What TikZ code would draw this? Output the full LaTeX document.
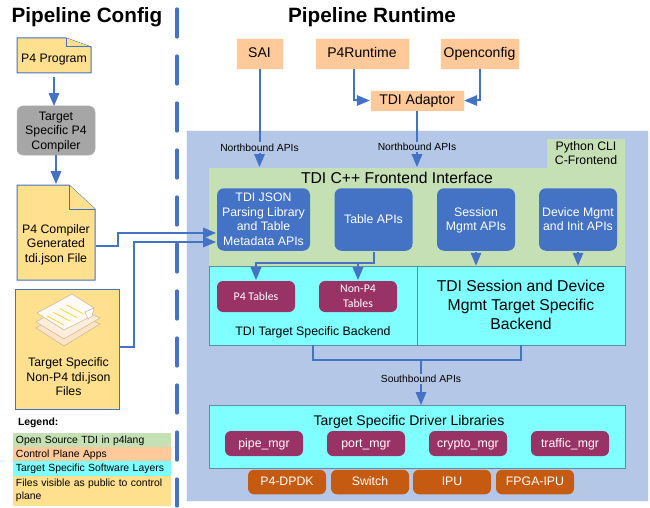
\documentclass[tikz,border=0pt]{standalone}
\usepackage{fontspec}
\setmainfont{Liberation Sans}
\newfontfamily\tablefont{Carlito}
\usetikzlibrary{arrows}

\definecolor{linkblue}{HTML}{4472C4}
\definecolor{panelblue}{HTML}{B4C7E7}
\definecolor{tdigreen}{HTML}{C5E0B4}
\definecolor{appsorange}{HTML}{FFC999}
\definecolor{targetcyan}{HTML}{7FFFFF}
\definecolor{fileyellow}{HTML}{FFE08F}
\definecolor{mgrplum}{HTML}{993366}
\definecolor{rustorange}{HTML}{C55A11}
\definecolor{edgeteal}{HTML}{5F8F9F}
\definecolor{sheetedge}{HTML}{CDBB9C}

\begin{document}
\begin{tikzpicture}[x=1pt, y=-1pt, ->, >=triangle 45, line width=2pt]
    \tikzstyle{every node}=[inner sep=0pt, align=center, text=black, font=\fontsize{12.3}{14.5}\selectfont]
    \tikzstyle{oneline}=[text height=9pt, text depth=1.5pt]
    \tikzstyle{apps}=[fill=appsorange, draw=white!85!appsorange, line width=0.5pt, font=\fontsize{14}{16}\selectfont, text height=10pt, text depth=1.5pt]
    \tikzstyle{apibox}=[fill=linkblue, draw=none, rounded corners=7pt, text=white, minimum height=62.5pt]
    \tikzstyle{mgrbox}=[fill=mgrplum, draw=none, rounded corners=6pt, text=white, minimum width=78pt]
    \tikzstyle{asicbox}=[fill=rustorange, draw=none, rounded corners=6pt, text=white, minimum width=78pt, minimum height=24.5pt, oneline]
    \tikzstyle{layerbox}=[draw=edgeteal, line width=0.7pt, minimum width=416pt]
    \tikzstyle{apilabel}=[fill=panelblue, font=\fontsize{10.3}{12}\selectfont, inner sep=1.5pt, text depth=0pt]
    \tikzstyle{filebox}=[fill=fileyellow, draw=linkblue, line width=1pt, -]
    \tikzstyle{sheet}=[-, draw=sheetedge, line width=0.6pt]
    \tikzstyle{legendrow}=[anchor=west, minimum width=158pt, text width=152pt, inner xsep=3pt, align=left, font=\fontsize{10.4}{13}\selectfont]
    \tikzstyle{legendline}=[legendrow, text height=8pt, text depth=1pt]

    \useasboundingbox (0, 0) rectangle (650, 508);

    \node[font=\bfseries\fontsize{20.7}{22}\selectfont] at (87, 17) (titleconfig) {Pipeline Config};
    \node[font=\bfseries\fontsize{20.7}{22}\selectfont] at (372, 17) (titleruntime) {Pipeline Runtime};
    \coordinate (splittop) at (177, 9);
    \coordinate (splitbot) at (177, 506);
    \draw[-, draw=linkblue, line width=3.2pt, line cap=round, dash pattern=on 28pt off 19pt] (splittop) -- (splitbot);

    % runtime panel
    \node[fill=panelblue, draw=white!80!panelblue, line width=1pt, minimum width=462pt, minimum height=371pt] at (417, 316) (panel) {};

    % config side
    \draw[filebox] (17, 38) -- (66, 38) -- (91, 47) -- (91, 73) -- (17, 73) -- cycle;
    \draw[filebox] (66, 38) -- (66, 47) -- (91, 47);
    \node[minimum width=74pt, minimum height=35pt, oneline] at (54, 59) (program) {P4 Program};
    \node[fill=black!35, draw=white!70!black, line width=0.5pt, rounded corners=6pt, minimum width=78pt, minimum height=49pt, text depth=0pt] at (56, 130.5) (compiler) {Target\\Specific P4\\Compiler};
    \draw[filebox] (17, 185) -- (69, 185) -- (95, 209) -- (95, 280) -- (17, 280) -- cycle;
    \draw[filebox] (69, 185) -- (69, 209) -- (95, 209);
    \node[minimum width=78pt, minimum height=95pt] at (56, 232.5) (generated) {};
    \node at (56, 244.5) (generatedtext) {P4 Compiler\\Generated\\tdi.json File};
    \node[fill=fileyellow, draw=linkblue, line width=1pt, minimum width=104pt, minimum height=120pt] at (67, 349) (nonp4) {};
    \node at (68.5, 377) (nonp4text) {Target Specific\\Non-P4 tdi.json\\Files};

    % sheets
    \draw[sheet, fill=orange!22!white] (36, 328) -- (68, 310) -- (100, 324) -- (64, 346) -- cycle;
    \draw[sheet, fill=orange!14!white] (36, 322) -- (68, 304) -- (100, 318) -- (64, 339) -- cycle;
    \draw[sheet, fill=orange!4!white] (37, 313) -- (72, 294) -- (94, 308) -- (92, 316) -- (64, 330) -- cycle;
    \draw[sheet, fill=white] (94, 308) -- (85, 312) -- (88, 319) -- (92, 316) -- cycle;
    \foreach \i in {0,1,2,3} {
        \draw[-, draw=yellow!70!orange, line width=0.6pt] (47+\i*6.5, 316-\i*3.7) -- (64+\i*6.5, 325-\i*3.7);
    }

    % apps
    \node[apps, minimum width=47pt, minimum height=31pt] at (259.5, 53.5) (sai) {SAI};
    \node[apps, minimum width=94pt, minimum height=31pt] at (362, 53.5) (p4runtime) {P4Runtime};
    \node[apps, minimum width=79pt, minimum height=31pt] at (479.5, 53.5) (openconfig) {Openconfig};
    \node[apps, minimum width=94pt, minimum height=21pt] at (417, 100.5) (adaptor) {TDI Adaptor};

    % frontend
    \node[fill=tdigreen, draw=none, minimum width=78pt, minimum height=14.5pt, oneline] at (586, 146.5) (pythoncli) {Python CLI};
    \node[fill=tdigreen, draw=none, minimum width=78pt, minimum height=14.5pt, oneline] at (586, 160.5) (cfrontend) {C-Frontend};
    \node[fill=tdigreen, draw=none, minimum width=416pt, minimum height=98pt] at (417, 217) (frontend) {};
    \node[font=\fontsize{15.7}{18}\selectfont] at (397, 178) (frontendtitle) {TDI C++ Frontend Interface};
    \node[apibox, minimum width=93pt] at (263.5, 219.5) (jsonapis) {TDI JSON\\Parsing Library\\and Table\\Metadata APIs};
    \node[apibox, minimum width=78pt, oneline] at (373.5, 219.5) (tableapis) {Table APIs};
    \node[apibox, minimum width=78pt, text depth=1pt] at (476, 219.5) (sessionapis) {Session\\Mgmt APIs};
    \node[apibox, minimum width=78pt, text depth=1pt] at (578, 219.5) (deviceapis) {Device Mgmt\\and Init APIs};

    % backend
    \node[layerbox, fill=targetcyan, minimum height=79pt] at (417, 305.5) (backend) {};
    \draw[-, draw=edgeteal, line width=0.7pt] (backend.north) -- (backend.south);
    \node[mgrbox, minimum height=31pt, font=\tablefont\fontsize{11.8}{14.5}\selectfont, oneline] at (256, 296.5) (p4tables) {P4 Tables};
    \node[mgrbox, minimum height=31pt, font=\tablefont\fontsize{11.8}{14.5}\selectfont] at (358, 296.5) (nonp4tables) {Non-P4\\Tables};
    \node at (313, 332.5) (backendlabel) {TDI Target Specific Backend};
    \node[font=\fontsize{15.7}{18.7}\selectfont] at (521, 305) (sessionbackend) {TDI Session and Device\\Mgmt Target Specific\\Backend};

    % driver
    \node[layerbox, fill=targetcyan, minimum height=63pt] at (417, 436.5) (driver) {};
    \node[font=\fontsize{14}{16}\selectfont] at (409, 422) (drivertitle) {Target Specific Driver Libraries};
    \node[mgrbox, minimum height=25pt, oneline] at (264, 443.5) (pipemgr) {pipe\_mgr};
    \node[mgrbox, minimum height=25pt, oneline] at (366, 443.5) (portmgr) {port\_mgr};
    \node[mgrbox, minimum height=25pt, oneline] at (468, 443.5) (cryptomgr) {crypto\_mgr};
    \node[mgrbox, minimum height=25pt, oneline] at (570, 443.5) (trafficmgr) {traffic\_mgr};
    \node[asicbox] at (287, 482) (dpdk) {P4-DPDK};
    \node[asicbox] at (370, 482) (switch) {Switch};
    \node[asicbox] at (452, 482) (ipu) {IPU};
    \node[asicbox] at (535, 482) (fpga) {FPGA-IPU};

    % legend
    \node[anchor=west, font=\bfseries\fontsize{10.4}{12}\selectfont] at (17, 423) (legend) {Legend:};
    \node[legendline, fill=tdigreen, minimum height=14pt] at (12, 440) (legendtdi) {Open Source TDI in p4lang};
    \node[legendline, fill=appsorange, minimum height=14pt] at (12, 454) (legendapps) {Control Plane Apps};
    \node[legendline, fill=targetcyan, minimum height=14.5pt] at (12, 468.25) (legendtarget) {Target Specific Software Layers};
    \node[legendrow, fill=fileyellow, minimum height=30pt] at (12, 490.5) (legendfiles) {Files visible as public to control plane};

    % connectors
    \tikzstyle{every path}=[draw=linkblue]
    \draw (program.south -| 54, 0) -- (54, 106);
    \draw (compiler.south) -- (generated.north);
    \draw (sai.south) -- (sai.south |- frontend.north) node[apilabel, pos=0.8] (northleft) {Northbound APIs};
    \draw (adaptor.south) -- (adaptor.south |- frontend.north) node[apilabel, pos=0.64] (northright) {Northbound APIs};
    \draw (p4runtime.south -| 354, 0) |- (adaptor.west);
    \draw (openconfig.south) |- (adaptor.east);
    \draw (generated.east |- 0, 246) -- (118, 246) |- (jsonapis.west |- 0, 233);
    \draw (nonp4.east |- 0, 347) -- (133.5, 347) |- (jsonapis.west |- 0, 242);
    \draw (tableapis.south) -- (373.5, 263) -| (p4tables.north);
    \draw (373.5, 263) -| (nonp4tables.north);
    \draw (sessionapis.south) -- (sessionapis.south |- backend.north);
    \draw (deviceapis.south) -- (deviceapis.south |- backend.north);
    \draw[-] (313, 345) -- (313, 360) -- (521, 360) -- (521, 345);
    \draw (421, 360) -- (421, 405) node[apilabel, pos=0.42] (south) {Southbound APIs};
\end{tikzpicture}
\end{document}
